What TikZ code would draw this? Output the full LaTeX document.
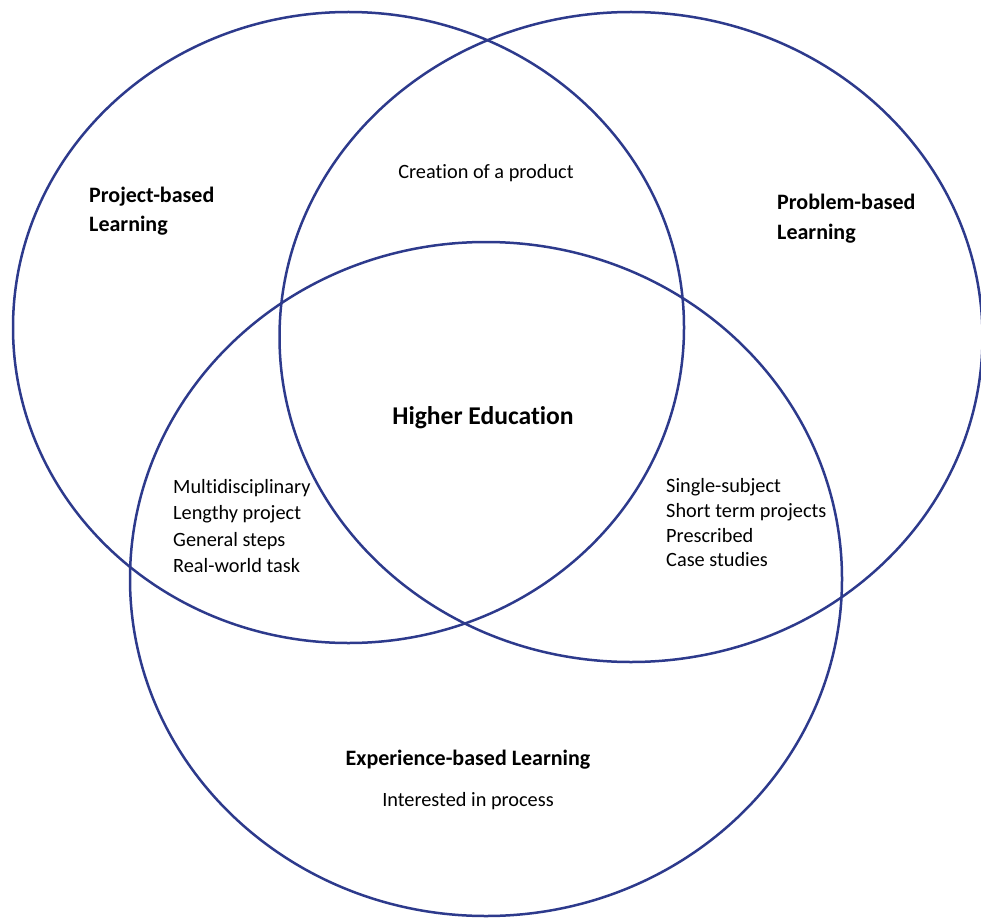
\documentclass[tikz,border=0pt]{standalone}
\usepackage{fontspec}
\setmainfont[Ligatures={NoCommon,NoContextual}]{Carlito}
\definecolor{ring}{HTML}{2D3A8C}
\begin{document}
\begin{tikzpicture}[x=1pt,y=-1pt,
  ringline/.style={draw=ring,line width=2.5pt},
  txt/.style={inner sep=0pt,font=\fontsize{20.3}{25}\selectfont},
  lbl/.style={inner sep=0pt,font=\fontsize{22}{27}\selectfont\bfseries},
  big/.style={inner sep=0pt,font=\fontsize{25.6}{30}\selectfont\bfseries}]
\useasboundingbox (0,0) rectangle (981,917);
\clip (0,0) rectangle (981,917);
% circles
\draw[ringline] (348.5,327.5) ellipse [x radius=335.5pt, y radius=315.5pt];
\draw[ringline] (631,337) ellipse [x radius=351.5pt, y radius=325pt];
\draw[ringline] (486,579) ellipse [x radius=356pt, y radius=337pt];
% labels
\node[lbl,anchor=base west] (pj1) at (89,203) {Project-based};
\node[lbl,anchor=base west] (pj2) at (89,232) {Learning};
\node[lbl,anchor=base west] (pb1) at (777,210) {Problem-based};
\node[lbl,anchor=base west] (pb2) at (777,240) {Learning};
\node[txt,anchor=base] (cre) at (486,179) {Creation of a product};
\node[big,anchor=base] (he) at (483,424) {Higher Education};
\node[txt,anchor=base west] (l1) at (173,493) {Multidisciplinary};
\node[txt,anchor=base west] (l2) at (173,519) {Lengthy project};
\node[txt,anchor=base west] (l3) at (173,546) {General steps};
\node[txt,anchor=base west] (l4) at (173,572) {Real-world task};
\node[txt,anchor=base west] (r1) at (666,492) {Single-subject};
\node[txt,anchor=base west] (r2) at (666,517) {Short term projects};
\node[txt,anchor=base west] (r3) at (666,542) {Prescribed};
\node[txt,anchor=base west] (r4) at (666,566) {Case studies};
\node[lbl,anchor=base] (ex) at (468,765) {Experience-based Learning};
\node[txt,anchor=base] (ip) at (468,806) {Interested in process};
\end{tikzpicture}
\end{document}
